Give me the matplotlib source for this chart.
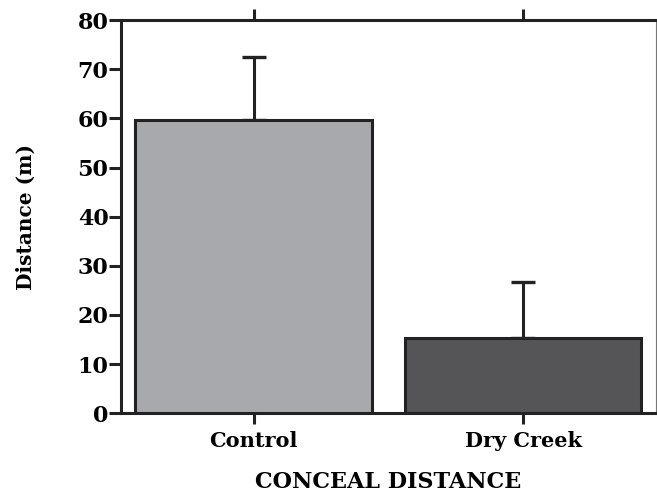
import matplotlib.pyplot as plt

# valeurs
groupes = ["Control", "Dry Creek"]
moyennes = [59.6, 15.3]
erreurs = [13.0, 11.4]
couleurs = ["#a8a9ac", "#555557"]
graduations_y = [0, 10, 20, 30, 40, 50, 60, 70, 80]

plt.rcParams['font.family'] = ['DejaVu Serif']
plt.rcParams['font.weight'] = 'bold'

fig = plt.figure(figsize=(6.57, 4.93), dpi=100)
ax = fig.add_axes([0.184, 0.162, 0.8145, 0.797])

x = range(len(groupes))
ax.bar(x, moyennes, width=0.88, color=couleurs, edgecolor="#222222", linewidth=2.2, zorder=3)
ax.errorbar(x, moyennes, yerr=[[0, 0], erreurs], fmt='none', ecolor="#222222",
            elinewidth=2.2, capsize=8.5, capthick=2.4, zorder=2)

ax.set_xlim(-0.494, 1.494)
ax.set_ylim(0, 80)
ax.set_yticks(graduations_y)
ax.set_xticks(list(x))
ax.set_xticklabels(groupes, fontsize=15, fontweight='bold')
ax.tick_params(axis='y', labelsize=16, length=9, width=2.2, pad=0, color="#222222")
ax.tick_params(axis='x', length=8, width=2.2, pad=5, color="#222222", top=True)
for lab in ax.get_yticklabels():
    lab.set_fontweight('bold')

for cote in ['left', 'bottom', 'top']:
    ax.spines[cote].set_linewidth(2.2)
    ax.spines[cote].set_color("#222222")
ax.spines['right'].set_linewidth(0.8)
ax.spines['right'].set_color("#777777")

ax.set_ylabel("Distance (m)", fontsize=14.5, fontweight='bold', labelpad=30)
ax.set_xlabel("CONCEAL DISTANCE", fontsize=16, fontweight='bold', labelpad=14)

plt.savefig("out.png", dpi=100)
